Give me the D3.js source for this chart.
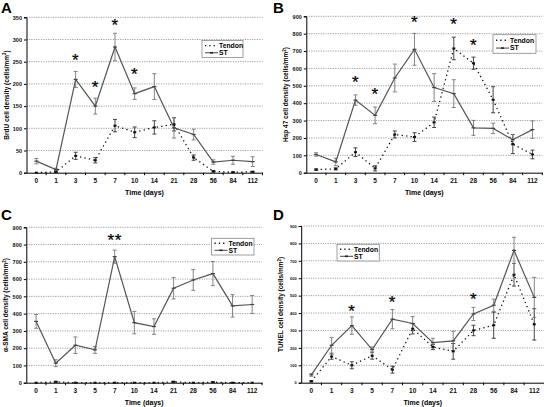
<!DOCTYPE html>
<html><head><meta charset="utf-8">
<script src="https://cdn.jsdelivr.net/npm/d3@7"></script>
<style>body{margin:0;background:#fff}svg{display:block}text{font-family:"Liberation Sans",Arial,sans-serif;-webkit-font-smoothing:antialiased}</style>
</head><body>
<script>
const categories = ["0","1","3","5","7","10","14","21","28","56","84","112"];

// Panel A: BrdU
const aST = [26,7,210,150,283,178,194,101,86,24,28,25];
const aSTerr = [6,3,18,18,31,13,29,23,12,5,9,11];
const aTen = [0,2,38,28,106,91,102,109,34,3,1,2];
const aTenErr = [0,2,8,6,14,12,15,15,6,2,1,1];
const aStars = [["3",264,"*"],["5",205,"*"],["7",343,"*"],["10",233,"*"]];
const aTicks = [0,50,100,150,200,250,300,350];

// Panel B: Hsp 47
const bST = [105,62,418,330,545,710,490,455,258,255,190,248];
const bSTerr = [10,22,30,48,80,92,80,80,43,30,30,50];
const bTen = [18,22,118,25,220,205,290,715,630,420,165,105];
const bTenErr = [4,6,25,15,20,25,30,65,35,75,55,25];
const bStars = [["3",551,"*"],["5",482,"*"],["10",894,"*"],["21",887,"*"],["28",764,"*"]];
const bTicks = [0,100,200,300,400,500,600,700,800,900];

// Panel C: alpha-SMA
const cST = [355,113,217,190,730,348,325,547,595,632,445,453];
const cSTerr = [40,20,48,20,38,65,45,62,60,70,65,52];
const cTen = [0,5,0,0,0,0,0,5,0,3,0,0];
const cTenErr = [0,3,0,0,0,0,0,3,0,2,0,0];
const cStars = [["7",855,"**"]];
const cTicks = [0,100,200,300,400,500,600,700,800,900];

// Panel D: TUNEL
const dST = [45,215,328,190,365,340,230,240,395,445,760,490];
const dSTerr = [8,45,50,15,55,40,25,55,38,35,75,115];
const dTen = [8,150,100,155,75,310,205,180,300,330,620,335];
const dTenErr = [4,15,20,20,20,30,15,45,30,75,65,90];
const dStars = [["3",440,"*"],["7",490,"*"],["28",508,"*"]];
const dTicks = [0,100,200,300,400,500,600,700,800,900];

const W = 544, H = 407;
const svg = d3.select("body").append("svg").attr("width", W).attr("height", H);

function panel(o) {
  const g = svg.append("g");
  const x = d3.scaleBand().domain(categories).range([o.x0, o.x1]);
  const y = d3.scaleLinear().domain([0, o.max]).range([o.yb, o.yt]);
  const cx = c => x(c) + x.bandwidth() / 2;

  g.append("text").attr("x", o.lx).attr("y", o.ly).attr("font-size", 15).attr("font-weight", "bold").text(o.letter);

  g.selectAll(".grid").data(o.ticks.filter(t => t > 0)).enter().append("line")
    .attr("x1", o.x0).attr("x2", o.x1).attr("y1", d => y(d)).attr("y2", d => y(d))
    .attr("stroke", "#888").attr("stroke-width", 0.8).attr("stroke-dasharray", "1.2,1.2");

  const ya = d3.axisLeft(y).tickValues(o.ticks).tickSize(2.5).tickPadding(2).tickFormat(d3.format("d"));
  const yg = g.append("g").attr("transform", `translate(${o.x0},0)`).call(ya);
  yg.select(".domain").attr("stroke", "#000").attr("stroke-width", 1);
  yg.selectAll("line").attr("stroke", "#000");
  yg.selectAll("text").attr("font-size", o.yfs).attr("font-weight", "bold").attr("fill", "#111");

  const xa = d3.axisBottom(x).tickSize(0).tickPadding(6);
  const xg = g.append("g").attr("transform", `translate(0,${o.yb})`).call(xa);
  xg.select(".domain").attr("stroke", "#000").attr("stroke-width", 1);
  xg.selectAll("text").attr("font-size", 6.5).attr("font-weight", "bold").attr("fill", "#111");
  g.selectAll(".xt").data(categories).enter().append("line")
    .attr("x1", d => x(d) + x.bandwidth()).attr("x2", d => x(d) + x.bandwidth())
    .attr("y1", o.yb).attr("y2", o.yb + 2.5).attr("stroke", "#000");

  g.append("text").attr("x", (o.x0 + o.x1) / 2).attr("y", o.yb + 22).attr("text-anchor", "middle")
    .attr("font-size", 7).attr("font-weight", "bold").text("Time (days)");

  const yt = g.append("text").attr("transform", `translate(${o.x0 - 18},${(o.yt + o.yb) / 2}) rotate(-90)`)
    .attr("text-anchor", "middle").attr("font-size", 6.5).attr("font-weight", "bold");
  yt.append("tspan").text(o.ytitle + " cell density (cells/mm");
  yt.append("tspan").attr("font-size", 4.5).attr("dy", -2.5).text("2");
  yt.append("tspan").attr("dy", 2.5).text(")");

  function errs(vals, es, col) {
    categories.forEach((c, i) => {
      if (es[i] <= 0) return;
      const xx = cx(c), y1 = y(vals[i] + es[i]), y2 = y(Math.max(0, vals[i] - es[i]));
      g.append("line").attr("x1", xx).attr("x2", xx).attr("y1", y1).attr("y2", y2).attr("stroke", col).attr("stroke-width", 0.9);
      [y1, y2].forEach(yy => g.append("line").attr("x1", xx - 2).attr("x2", xx + 2).attr("y1", yy).attr("y2", yy).attr("stroke", col).attr("stroke-width", 0.9));
    });
  }
  errs(o.ten, o.tenErr, "#333");
  errs(o.st, o.stErr, "#777");

  const line = d3.line().x((d, i) => cx(categories[i])).y(d => y(d));
  g.append("path").datum(o.ten).attr("d", line).attr("fill", "none").attr("stroke", "#111")
    .attr("stroke-width", 1.3).attr("stroke-dasharray", "1.3,3.2");
  g.selectAll(".tm").data(o.ten).enter().append("rect")
    .attr("x", (d, i) => cx(categories[i]) - 1.5).attr("y", d => y(d) - 1).attr("width", 3).attr("height", 2).attr("fill", "#111");
  g.append("path").datum(o.st).attr("d", line).attr("fill", "none").attr("stroke", "#555").attr("stroke-width", 1.2);
  g.selectAll(".sm").data(o.st).enter().append("line")
    .attr("x1", (d, i) => cx(categories[i]) - 2).attr("x2", (d, i) => cx(categories[i]) + 2)
    .attr("y1", d => y(d)).attr("y2", d => y(d)).attr("stroke", "#444").attr("stroke-width", 1.2);

  o.stars.forEach(s => {
    g.append("text").attr("x", cx(s[0])).attr("y", y(s[1]) + 11).attr("text-anchor", "middle")
      .attr("font-family", "DejaVu Sans").attr("font-size", 17).attr("fill", "#000")
      .attr("stroke", "#000").attr("stroke-width", 0.25)
      .attr("letter-spacing", 0.5).text(s[2]);
  });

  const L = o.leg;
  const lg = g.append("g").attr("transform", `translate(${L[0]},${L[1]})`);
  lg.append("rect").attr("width", L[2]).attr("height", L[3]).attr("fill", "#fff").attr("stroke", "#888").attr("stroke-width", 0.8);
  lg.append("line").attr("x1", 3).attr("x2", 16).attr("y1", L[3] * 0.3).attr("y2", L[3] * 0.3)
    .attr("stroke", "#111").attr("stroke-width", 1.4).attr("stroke-dasharray", "1.3,3");
  lg.append("text").attr("x", 17).attr("y", L[3] * 0.3 + 2.4).attr("font-size", 6.8).attr("font-weight", "bold").text("Tendon");
  lg.append("line").attr("x1", 3).attr("x2", 16).attr("y1", L[3] * 0.72).attr("y2", L[3] * 0.72)
    .attr("stroke", "#555").attr("stroke-width", 1.1);
  lg.append("line").attr("x1", 8).attr("x2", 11).attr("y1", L[3] * 0.72).attr("y2", L[3] * 0.72).attr("stroke", "#222").attr("stroke-width", 1.6);
  lg.append("text").attr("x", 17).attr("y", L[3] * 0.72 + 2.4).attr("font-size", 6.8).attr("font-weight", "bold").text("ST");
}

panel({letter: "A", lx: 1, ly: 13, x0: 26.5, x1: 262.5, yt: 17.3, yb: 172.7, max: 350, ticks: aTicks, yfs: 5.5,
  st: aST, stErr: aSTerr, ten: aTen, tenErr: aTenErr, stars: aStars, ytitle: "BrdU", leg: [202, 40.5, 41, 17]});
panel({letter: "B", lx: 273, ly: 13, x0: 306.3, x1: 542.3, yt: 16.3, yb: 172.7, max: 900, ticks: bTicks, yfs: 5.5,
  st: bST, stErr: bSTerr, ten: bTen, tenErr: bTenErr, stars: bStars, ytitle: "Hsp 47", leg: [493, 34.7, 43, 18.6]});
panel({letter: "C", lx: 1, ly: 220, x0: 26.3, x1: 262, yt: 227.3, yb: 382.7, max: 900, ticks: cTicks, yfs: 5.5,
  st: cST, stErr: cSTerr, ten: cTen, tenErr: cTenErr, stars: cStars, ytitle: "\u03b1-SMA", leg: [211.5, 238.3, 42.5, 16.7]});
panel({letter: "D", lx: 273, ly: 220, x0: 301.2, x1: 544.4, yt: 226, yb: 382.7, max: 900, ticks: dTicks, yfs: 4,
  st: dST, stErr: dSTerr, ten: dTen, tenErr: dTenErr, stars: dStars, ytitle: "TUNEL", leg: [337, 244.3, 42.3, 16.7]});
</script>
</body></html>
